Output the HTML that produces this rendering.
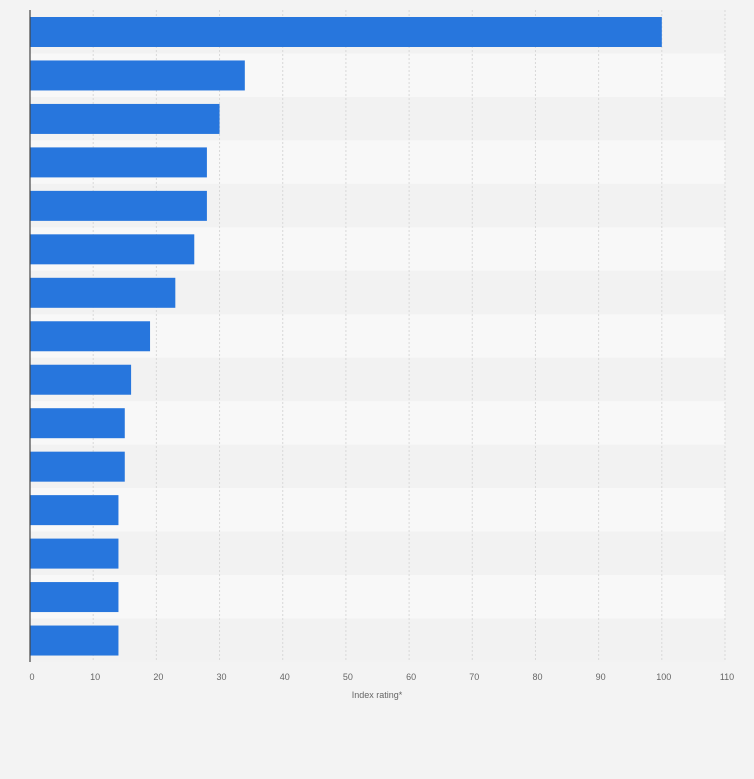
<!DOCTYPE html>
<html><head><meta charset="utf-8"><style>
html,body{margin:0;padding:0;background:#f3f3f3;font-family:"Liberation Sans",sans-serif;overflow:hidden}
svg{display:block}
</style></head><body>
<svg id="chart" width="754" height="779" xmlns="http://www.w3.org/2000/svg">
<rect width="754" height="779" fill="#f3f3f3"/>
<g id="stripes"></g><g id="grid"></g><g id="bars"></g><g id="ticks"></g>
<line x1="30" y1="10" x2="30" y2="662" stroke="#444" stroke-width="1.2"/>
<text x="377" y="698" text-anchor="middle" font-size="9" fill="#666">Index rating*</text>
</svg>
<script>
const categories=["c1","c2","c3","c4","c5","c6","c7","c8","c9","c10","c11","c12","c13","c14","c15"];
const values=[100,34,30,28,28,26,23,19,16,15,15,14,14,14,14];
const tickLabels=[0,10,20,30,40,50,60,70,80,90,100,110];
const NS="http://www.w3.org/2000/svg";
const plotX0=30,plotX1=725,plotTop=10,plotBot=662,maxV=110;
const xs=v=>plotX0+(v/maxV)*(plotX1-plotX0);
const rowH=(plotBot-plotTop)/categories.length;
function mk(t,a,p){const e=document.createElementNS(NS,t);for(const k in a)e.setAttribute(k,a[k]);document.getElementById(p).appendChild(e);return e;}
categories.forEach((c,i)=>{
 const s=mk('rect',{x:plotX0,y:plotTop+i*rowH,width:plotX1-plotX0,height:rowH,fill:i%2?'#f8f8f8':'#f2f2f2'},'stripes');
 
 
});
tickLabels.forEach(t=>{
 if(t>0){const g=mk('line',{x1:xs(t),x2:xs(t),y1:plotTop,y2:plotBot,stroke:'#d8d8d8','stroke-dasharray':'2,2'},'grid');
 
 }
 const l=mk('text',{x:xs(t)+2,y:680,'text-anchor':'middle','font-size':9,fill:'#666'},'ticks');
 l.textContent=t;
 
 
});
values.forEach((v,i)=>{
 const b=mk('rect',{x:plotX0,y:plotTop+i*rowH+7,width:xs(v)-plotX0,height:30,fill:'#2776dd'},'bars');
 
 
});
</script>
</body></html>
